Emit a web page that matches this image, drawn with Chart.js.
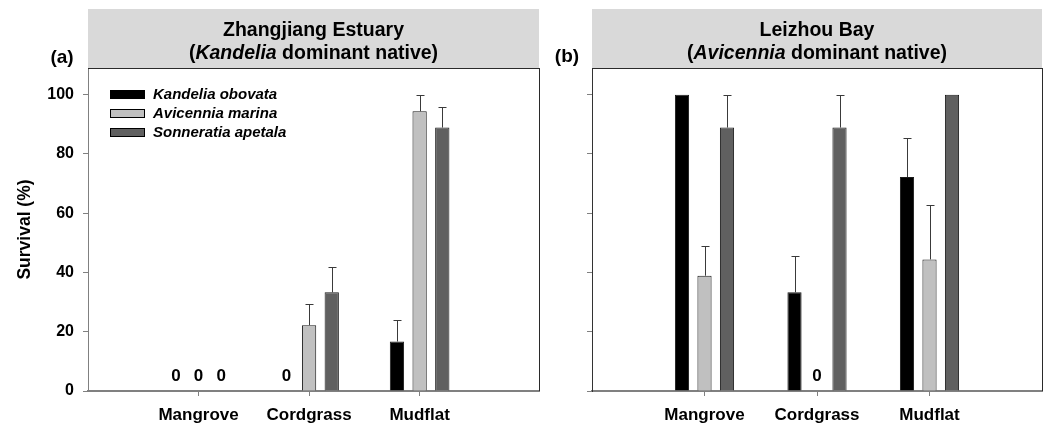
<!DOCTYPE html>
<html>
<head>
<meta charset="utf-8">
<script src="https://cdn.jsdelivr.net/npm/chart.js@4.4.1/dist/chart.umd.min.js"></script>
<style>
  html, body { margin: 0; padding: 0; background: #fff; }
  #wrap { position: relative; width: 1048px; height: 425px; overflow: hidden; }
  canvas { position: absolute; top: 0; }
  #cA { left: 0; }
  #cB { left: 545px; }
</style>
</head>
<body>
<div id="wrap">
  <canvas id="cA" width="545" height="425"></canvas>
  <canvas id="cB" width="503" height="425"></canvas>
</div>
<script>
// Habitats (x categories) and species (series)
const habitats = ['Mangrove', 'Cordgrass', 'Mudflat'];
const speciesNames = ['Kandelia obovata', 'Avicennia marina', 'Sonneratia apetala'];
const speciesColors = ['#000000', '#c0c0c0', '#606060'];
const yTicks = [0, 20, 40, 60, 80, 100];

// (a) Zhangjiang Estuary: mean survival (%) per habitat
const zjKandelia   = [0, 0, 16.7];
const zjAvicennia  = [0, 22.2, 94.4];
const zjSonneratia = [0, 33.3, 88.9];
// standard errors
const zjKandeliaSE   = [0, 0, 7.4];
const zjAvicenniaSE  = [0, 7.0, 5.6];
const zjSonneratiaSE = [0, 8.7, 7.0];

// (b) Leizhou Bay: mean survival (%) per habitat
const lzKandelia   = [100, 33.3, 72.2];
const lzAvicennia  = [38.9, 0, 44.4];
const lzSonneratia = [88.9, 88.9, 100];
// standard errors
const lzKandeliaSE   = [0, 12.2, 13.2];
const lzAvicenniaSE  = [10.2, 0, 18.5];
const lzSonneratiaSE = [11.1, 11.1, 0];

// Panel headings
const zjHeading = { line1: 'Zhangjiang Estuary', pre: '(', italic: 'Kandelia', post: ' dominant native)' };
const lzHeading = { line1: 'Leizhou Bay', pre: '(', italic: 'Avicennia', post: ' dominant native)' };
const zjLetter = '(a)';
const lzLetter = '(b)';
const yTitle = 'Survival (%)';

const FONT = '"Liberation Sans", Arial, Helvetica, sans-serif';

function makeDatasets(series, errors) {
  return series.map((vals, s) => ({
    label: speciesNames[s],
    data: vals.map((v, i) => ({ x: i + 1, y: v })),
    errors: errors[s],
    backgroundColor: speciesColors[s],
    borderColor: '#1a1a1a',
    borderWidth: 1,
    borderSkipped: 'start'
  }));
}

// Header band, error bars, zero labels, frame, legend and headings
const panelDecor = {
  id: 'panelDecor',
  beforeDraw(chart, args, o) {
    const { ctx, chartArea: a } = chart;
    ctx.save();
    ctx.fillStyle = '#d9d9d9';
    ctx.fillRect(a.left, o.headerTop, a.right - a.left, a.top - o.headerTop);
    ctx.restore();
  },
  afterDatasetsDraw(chart) {
    const { ctx } = chart;
    const yScale = chart.scales.y;
    ctx.save();
    chart.data.datasets.forEach((ds, di) => {
      const meta = chart.getDatasetMeta(di);
      meta.data.forEach((bar, i) => {
        const v = ds.data[i].y;
        const e = ds.errors[i];
        if (e > 0) {
          const yt = Math.round(yScale.getPixelForValue(v + e)) + 0.5;
          const x = Math.round(bar.x) + 0.5;
          ctx.strokeStyle = '#3a3a3a';
          ctx.lineWidth = 1;
          ctx.beginPath();
          ctx.moveTo(x, bar.y);
          ctx.lineTo(x, yt);
          ctx.moveTo(x - 4, yt);
          ctx.lineTo(x + 4, yt);
          ctx.stroke();
        }
        if (v === 0) {
          ctx.fillStyle = '#000';
          ctx.font = 'bold 17px ' + FONT;
          ctx.textAlign = 'center';
          ctx.textBaseline = 'alphabetic';
          ctx.fillText(String(v), bar.x, yScale.getPixelForValue(0) - 10);
        }
      });
    });
    ctx.restore();
  },
  afterDraw(chart, args, o) {
    const { ctx, chartArea: a } = chart;
    ctx.save();
    // frame: top edge under header and right edge
    ctx.strokeStyle = '#2a2a2a';
    ctx.lineWidth = 1;
    ctx.beginPath();
    ctx.moveTo(a.left, a.top + 0.5);
    ctx.lineTo(a.right, a.top + 0.5);
    ctx.moveTo(a.right + 0.5, a.top);
    ctx.lineTo(a.right + 0.5, a.bottom);
    ctx.stroke();

    // headings
    const cx = (a.left + a.right) / 2;
    const fN = 'bold 19.5px ' + FONT, fI = 'italic bold 19.5px ' + FONT;
    ctx.fillStyle = '#000';
    ctx.textBaseline = 'alphabetic';
    ctx.textAlign = 'center';
    ctx.font = fN;
    ctx.fillText(o.heading.line1, cx, o.line1Y);
    ctx.font = fN; const w1 = ctx.measureText(o.heading.pre).width;
    ctx.font = fI; const w2 = ctx.measureText(o.heading.italic).width;
    ctx.font = fN; const w3 = ctx.measureText(o.heading.post).width;
    let x = cx - (w1 + w2 + w3) / 2;
    ctx.textAlign = 'left';
    ctx.font = fN; ctx.fillText(o.heading.pre, x, o.line2Y); x += w1;
    ctx.font = fI; ctx.fillText(o.heading.italic, x, o.line2Y); x += w2;
    ctx.font = fN; ctx.fillText(o.heading.post, x, o.line2Y);

    // panel letter
    ctx.textAlign = 'center';
    ctx.font = 'bold 19px ' + FONT;
    ctx.fillText(o.letter, o.letterX, o.letterY);

    // legend
    if (o.legend) {
      const L = o.legend;
      ctx.font = 'italic bold 15px ' + FONT;
      ctx.textBaseline = 'middle';
      ctx.textAlign = 'left';
      chart.data.datasets.forEach((ds, i) => {
        const yc = Math.round(L.y + i * L.step);
        ctx.fillStyle = ds.backgroundColor;
        ctx.fillRect(L.x, yc - 4, L.w, 9);
        ctx.strokeStyle = '#000';
        ctx.strokeRect(L.x + 0.5, yc - 3.5, L.w - 1, 8);
        ctx.fillStyle = '#000';
        ctx.fillText(ds.label, L.x + L.w + 8, yc + 1);
      });
    }
    ctx.restore();
  }
};

function makeChart(id, datasets, cfg) {
  return new Chart(document.getElementById(id), {
    type: 'bar',
    data: { datasets },
    plugins: [panelDecor],
    options: {
      responsive: false,
      animation: false,
      events: [],
      devicePixelRatio: 1,
      layout: { padding: { left: 0, top: 68, right: 6, bottom: 0 } },
      datasets: { bar: { categoryPercentage: cfg.catPct, barPercentage: 0.63, grouped: true } },
      plugins: {
        legend: { display: false },
        tooltip: { enabled: false },
        panelDecor: cfg.decor
      },
      scales: {
        x: {
          type: 'linear',
          min: 0,
          max: cfg.xMax,
          offset: false,
          z: 1,
          afterBuildTicks: s => { s.ticks = habitats.map((h, i) => ({ value: i + 1 })); },
          ticks: {
            callback: v => habitats[v - 1],
            color: '#000',
            font: { family: FONT, size: 17, weight: 'bold' },
            padding: 9,
            maxRotation: 0,
            autoSkip: false
          },
          grid: { offset: false, drawOnChartArea: false, drawTicks: true, tickLength: 5, color: '#808080' },
          border: { color: '#808080', width: 2 },
          afterFit: s => { s.height = 34; }
        },
        y: {
          min: 0,
          max: 109,
          z: 1,
          afterBuildTicks: s => { s.ticks = yTicks.map(v => ({ value: v })); },
          ticks: {
            display: cfg.yLabels,
            color: '#000',
            font: { family: FONT, size: 16, weight: 'bold' },
            padding: 9
          },
          grid: { drawOnChartArea: false, drawTicks: true, tickLength: 5, color: '#808080' },
          border: { color: cfg.yBorder, width: 1 },
          title: {
            display: cfg.yLabels,
            text: yTitle,
            color: '#000',
            font: { family: FONT, size: 17.5, weight: 'bold' },
            padding: { top: 15, bottom: 0 }
          },
          afterFit: s => { s.width = cfg.yWidth; }
        }
      }
    }
  });
}

makeChart('cA',
  makeDatasets([zjKandelia, zjAvicennia, zjSonneratia], [zjKandeliaSE, zjAvicenniaSE, zjSonneratiaSE]),
  {
    xMax: 4.08, catPct: 0.615, yLabels: true, yBorder: '#808080', yWidth: 88,
    decor: {
      headerTop: 9, line1Y: 36, line2Y: 59, heading: zjHeading,
      letter: zjLetter, letterX: 62, letterY: 63,
      legend: { x: 110, y: 94, step: 19, w: 35 }
    }
  });

makeChart('cB',
  makeDatasets([lzKandelia, lzAvicennia, lzSonneratia], [lzKandeliaSE, lzAvicenniaSE, lzSonneratiaSE]),
  {
    xMax: 4, catPct: 0.6, yLabels: false, yBorder: '#333333', yWidth: 47,
    decor: {
      headerTop: 9, line1Y: 36, line2Y: 59, heading: lzHeading,
      letter: lzLetter, letterX: 22, letterY: 62,
      legend: null
    }
  });
</script>
</body>
</html>
